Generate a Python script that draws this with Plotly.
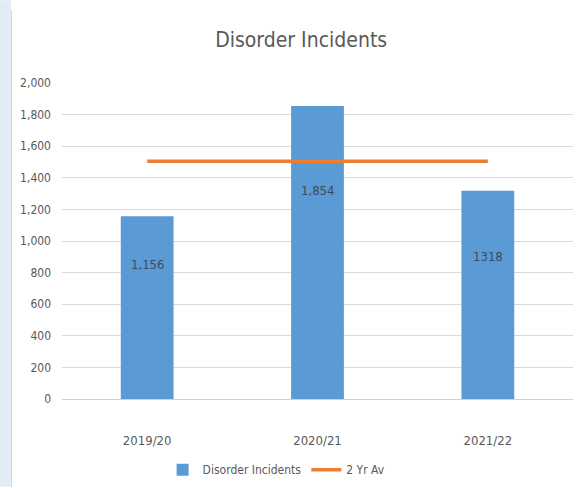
import plotly.graph_objects as go

categories = ["2019/20", "2020/21", "2021/22"]
incidents = [1156, 1854, 1318]
label_texts = ["1,156", "1,854", "1318"]
two_yr_av = [1505, 1505, 1505]
y_ticks = [0, 200, 400, 600, 800, 1000, 1200, 1400, 1600, 1800, 2000]
y_tick_labels = ["0", "200", "400", "600", "800", "1,000", "1,200", "1,400", "1,600", "1,800", "2,000"]

label_shifts = [-48, -84, -66]

FONT = "Liberation Sans Narrow, DejaVu Sans Condensed, Open Sans, sans-serif"
GREY = "#595959"

fig = go.Figure()
fig.add_trace(go.Bar(
    x=categories, y=incidents, name="Disorder Incidents",
    marker=dict(color="#5B9BD5", line=dict(width=0)), width=0.31,
))
fig.add_trace(go.Scatter(
    x=categories, y=two_yr_av, name="2 Yr Av", mode="lines",
    line=dict(color="#ED7D31", width=3.5),
))

for c, v, t, s in zip(categories, incidents, label_texts, label_shifts):
    fig.add_annotation(x=c, y=v, text=t, showarrow=False, yshift=s,
                       font=dict(family=FONT, size=13, color="#3b4a5c"))

W, H = 578, 488
L, R, T, B = 62, 5, 83, 88
pw, ph = W - L - R, H - T - B

def px_to_paper_x(px):
    return (px - L) / pw

def px_to_paper_y(py):
    return (H - B - py) / ph

fig.add_shape(type="rect", xref="paper", yref="paper",
              x0=px_to_paper_x(0), x1=px_to_paper_x(11),
              y0=px_to_paper_y(H), y1=px_to_paper_y(0),
              fillcolor="#e2ebf6", line=dict(width=0), layer="below")
fig.add_shape(type="line", xref="paper", yref="paper",
              x0=px_to_paper_x(11.5), x1=px_to_paper_x(11.5),
              y0=px_to_paper_y(H), y1=px_to_paper_y(10),
              line=dict(color="#d4d4d4", width=1), layer="below")

fig.update_layout(
    width=W, height=H,
    margin=dict(l=L, r=R, t=T, b=B),
    paper_bgcolor="white", plot_bgcolor="white",
    title=dict(text="Disorder Incidents", x=0.521, xanchor="center", y=0.918, yanchor="middle",
               font=dict(family=FONT, size=21, color=GREY)),
    font=dict(family=FONT, color=GREY),
    showlegend=True,
    legend=dict(orientation="h", x=0.42, xanchor="center", y=-0.22, yanchor="middle",
                font=dict(family=FONT, size=12, color=GREY), bgcolor="rgba(0,0,0,0)"),
    bargap=0.69,
)
fig.update_xaxes(showgrid=False, showline=False, ticks="", ticklabelstandoff=32,
                 tickfont=dict(size=13, color=GREY))
fig.update_yaxes(range=[0, 2000], tickvals=y_ticks, ticktext=y_tick_labels,
                 showgrid=True, gridcolor="#d9d9d9", gridwidth=1,
                 zeroline=True, zerolinecolor="#d0d0d0", zerolinewidth=1,
                 showline=False, ticks="", ticklabelstandoff=10,
                 tickfont=dict(size=12, color=GREY))

fig.write_html("out.html", config={"displayModeBar": False},
               post_script="document.body.style.margin='0';document.body.style.padding='0';")
